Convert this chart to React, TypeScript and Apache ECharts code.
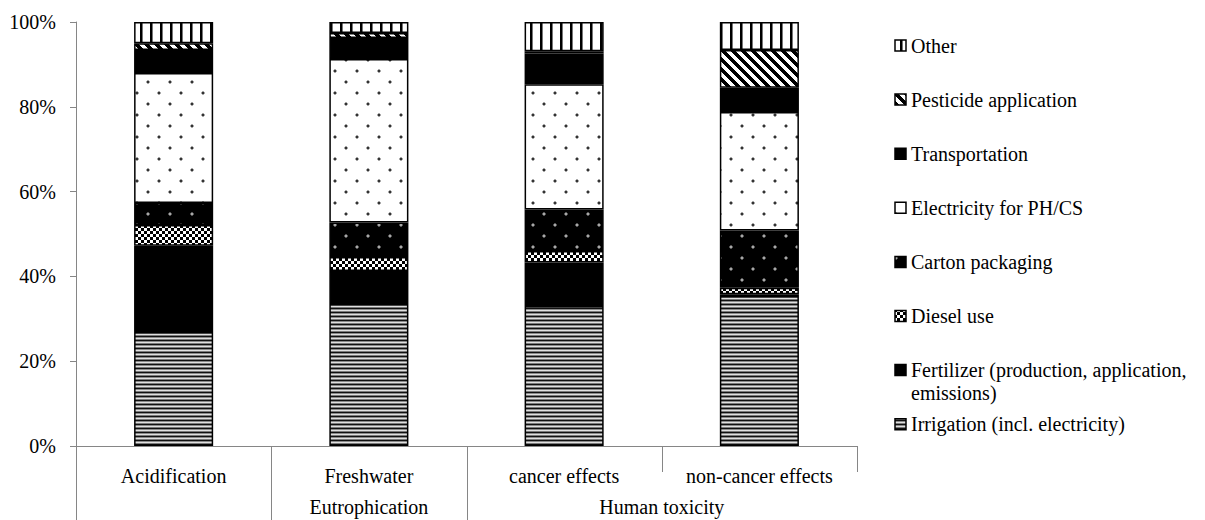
import React, { useEffect, useRef } from "react";
import * as echarts from "echarts";

const categories = ["Acidification", "Freshwater", "cancer effects", "non-cancer effects"];
const groupNames = ["", "Eutrophication", "Human toxicity"];
const groupSpans = [[0, 0], [1, 1], [2, 3]];
const yTicks = [0, 20, 40, 60, 80, 100];

const seriesNames = [
  "Irrigation (incl. electricity)",
  "Fertilizer (production, application, emissions)",
  "Diesel use",
  "Carton packaging",
  "Electricity for PH/CS",
  "Transportation",
  "Pesticide application",
  "Other",
];
const legendLabels = [
  "Irrigation (incl. electricity)",
  "Fertilizer (production, application,\nemissions)",
  "Diesel use",
  "Carton packaging",
  "Electricity for PH/CS",
  "Transportation",
  "Pesticide application",
  "Other",
];

const irrigation = [26.9, 33.5, 33.0, 35.4];
const fertilizer = [20.3, 7.8, 10.3, 0.4];
const diesel = [4.9, 3.3, 2.7, 1.5];
const carton = [5.2, 8.1, 9.8, 13.5];
const electricity = [30.7, 38.6, 29.5, 28.0];
const transportation = [5.4, 4.9, 7.3, 5.7];
const pesticide = [1.6, 1.2, 0.5, 8.9];
const other = [5.0, 2.6, 6.9, 6.6];

const seriesValues = [irrigation, fertilizer, diesel, carton, electricity, transportation, pesticide, other];

const FONT = "Liberation Serif";
const FS = 20;

function tile(w: number, h: number, draw: (ctx: CanvasRenderingContext2D) => void) {
  const c = document.createElement("canvas");
  c.width = w;
  c.height = h;
  const ctx = c.getContext("2d") as CanvasRenderingContext2D;
  draw(ctx);
  return { image: c.toDataURL(), imageWidth: w, imageHeight: h, repeat: "repeat" };
}

function dot(ctx: CanvasRenderingContext2D, x: number, y: number, core: string, halo: string) {
  ctx.fillStyle = halo;
  ctx.fillRect(x, y - 1, 2, 4);
  ctx.fillRect(x - 1, y, 4, 2);
  ctx.fillStyle = core;
  ctx.fillRect(x, y, 2, 2);
}

function makePatterns() {
  const irrigationP = tile(1, 4, (ctx) => {
    const rows = ["#111", "#8a8a8a", "#e0e0e0", "#7a7a7a"];
    rows.forEach((c, i) => {
      ctx.fillStyle = c;
      ctx.fillRect(0, i, 1, 1);
    });
  });
  const solid = "#000";
  const dieselP = tile(6, 6, (ctx) => {
    ctx.fillStyle = "#000";
    ctx.fillRect(0, 0, 6, 6);
    ctx.fillStyle = "#fff";
    ctx.fillRect(0, 0, 3, 3);
    ctx.fillRect(3, 3, 3, 3);
  });
  const cartonP = tile(22, 22, (ctx) => {
    ctx.fillStyle = "#000";
    ctx.fillRect(0, 0, 22, 22);
    dot(ctx, 4, 4, "#a8a8a8", "#505050");
    dot(ctx, 15, 15, "#a8a8a8", "#505050");
  });
  const elecP = tile(22, 22, (ctx) => {
    ctx.fillStyle = "#fff";
    ctx.fillRect(0, 0, 22, 22);
    dot(ctx, 4, 4, "#333", "#aaa");
    dot(ctx, 15, 15, "#333", "#aaa");
  });
  const pestP = tile(10, 10, (ctx) => {
    const img = ctx.createImageData(10, 10);
    for (let y = 0; y < 10; y++) {
      for (let x = 0; x < 10; x++) {
        const d = (((x - y) % 10) + 10) % 10;
        const v = d < 5 ? 0 : 255;
        const k = (y * 10 + x) * 4;
        img.data[k] = v;
        img.data[k + 1] = v;
        img.data[k + 2] = v;
        img.data[k + 3] = 255;
      }
    }
    ctx.putImageData(img, 0, 0);
  });
  const otherP = tile(10, 1, (ctx) => {
    ctx.fillStyle = "#fff";
    ctx.fillRect(0, 0, 10, 1);
    ctx.fillStyle = "#000";
    ctx.fillRect(0, 0, 2, 1);
    ctx.fillStyle = "#777";
    ctx.fillRect(2, 0, 1, 1);
  });
  return [irrigationP, solid, dieselP, cartonP, elecP, solid, pestP, otherP];
}

export default function App() {
  const ref = useRef<HTMLDivElement>(null);

  useEffect(() => {
    if (!ref.current) return;
    const chart = echarts.init(ref.current, undefined, { renderer: "svg" });
    const patterns = makePatterns();

    const series = seriesNames.map((name, i) => ({
      name,
      type: "bar",
      stack: "total",
      barWidth: "40.5%",
      data: seriesValues[i],
      itemStyle: { color: patterns[i], borderColor: "#000", borderWidth: 1.5 },
      emphasis: { disabled: true },
    }));

    chart.setOption({
      animation: false,
      backgroundColor: "#fff",
      textStyle: { fontFamily: FONT },
      grid: { left: 76, right: 348, top: 22, bottom: 74, containLabel: false },
      xAxis: {
        type: "category",
        data: categories,
        axisLine: { show: true, lineStyle: { color: "#868686", width: 1 } },
        axisTick: { show: false },
        axisLabel: { fontFamily: FONT, fontSize: FS, lineHeight: 24, color: "#000", margin: 18, interval: 0 },
      },
      yAxis: {
        type: "value",
        min: yTicks[0],
        max: yTicks[yTicks.length - 1],
        interval: 20,
        axisLine: { show: true, lineStyle: { color: "#868686", width: 1 } },
        axisTick: { show: true, length: 6, lineStyle: { color: "#868686" } },
        splitLine: { show: false },
        axisLabel: { formatter: "{value}%", fontFamily: FONT, fontSize: FS, color: "#000", margin: 20 },
      },
      legend: { show: false },
      series,
    });

    const c0 = chart.convertToPixel({ xAxisIndex: 0 }, 0) as number;
    const c1 = chart.convertToPixel({ xAxisIndex: 0 }, 1) as number;
    const bw = c1 - c0;
    const y0 = chart.convertToPixel({ yAxisIndex: 0 }, 0) as number;
    const bound = (i: number) => c0 - bw / 2 + i * bw;
    const lineStyle = { stroke: "#868686", lineWidth: 1 };
    const graphics: any[] = [];
    const fullLen = 74;
    const shortLen = 26;
    for (let i = 0; i <= categories.length; i++) {
      const isGroupStart = groupSpans.some((s) => s[0] === i);
      const len = isGroupStart ? fullLen : shortLen;
      const x = Math.round(bound(i)) + 0.5;
      graphics.push({
        type: "line",
        shape: { x1: x, y1: y0, x2: x, y2: y0 + len },
        style: lineStyle,
        silent: true,
      });
    }
    groupNames.forEach((g, gi) => {
      if (!g) return;
      const [a, b] = groupSpans[gi];
      const cx = (bound(a) + bound(b + 1)) / 2;
      graphics.push({
        type: "text",
        x: cx,
        y: y0 + 61,
        style: {
          text: g,
          fontFamily: FONT,
          fontSize: FS,
          fill: "#000",
          align: "center",
          verticalAlign: "middle",
        },
        silent: true,
      });
    });
    const legendX = 895;
    for (let k = 0; k < seriesNames.length; k++) {
      const i = seriesNames.length - 1 - k;
      const cy = 45.5 + 54.1 * k;
      graphics.push({
        type: "rect",
        shape: { x: legendX, y: cy - 5.5, width: 11, height: 11 },
        style: { fill: patterns[i], stroke: "#000", lineWidth: 1.5 },
        silent: true,
      });
      graphics.push({
        type: "text",
        x: legendX + 16,
        y: cy - 11.5,
        style: {
          text: legendLabels[i],
          fontFamily: FONT,
          fontSize: FS,
          fill: "#000",
          align: "left",
          verticalAlign: "top",
          lineHeight: 23,
        },
        silent: true,
      });
    }
    chart.setOption({ graphic: graphics });

    return () => {
      chart.dispose();
    };
  }, []);

  return (
    <div
      ref={ref}
      style={{ position: "fixed", left: 0, top: 0, width: 1205, height: 520, background: "#fff" }}
    />
  );
}
